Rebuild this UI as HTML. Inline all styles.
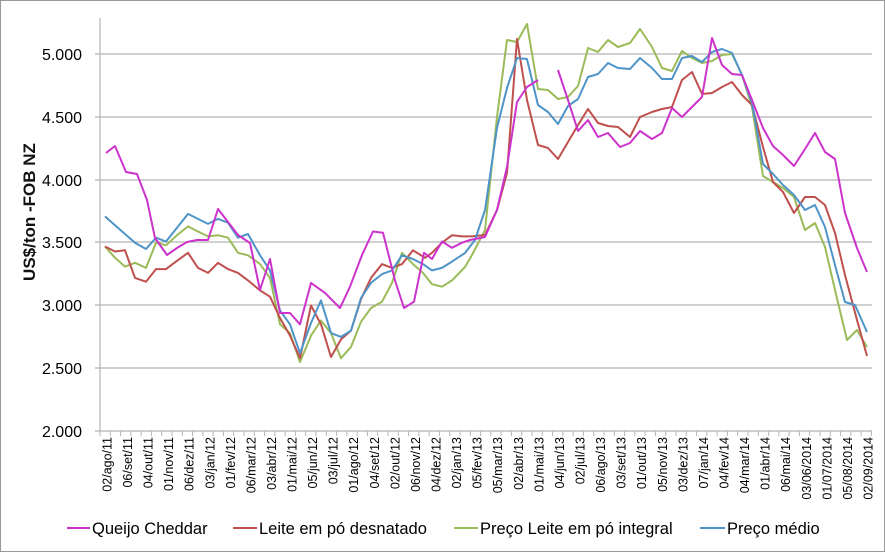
<!DOCTYPE html>
<html><head><meta charset="utf-8"><style>
html,body{margin:0;padding:0;background:#fff;}
svg{display:block;font-family:"Liberation Sans",sans-serif;}
</style></head><body>
<svg width="885" height="552" viewBox="0 0 885 552" xmlns="http://www.w3.org/2000/svg">
<rect x="0.5" y="0.5" width="884" height="551" fill="#fff" stroke="#999"/>
<g stroke="#b5b5b5" stroke-width="1.2">
<line x1="95" y1="54" x2="872" y2="54"/>
<line x1="95" y1="117" x2="872" y2="117"/>
<line x1="95" y1="180" x2="872" y2="180"/>
<line x1="95" y1="242" x2="872" y2="242"/>
<line x1="95" y1="305" x2="872" y2="305"/>
<line x1="95" y1="368" x2="872" y2="368"/>
<line x1="95" y1="431" x2="872" y2="431"/>
<line x1="100" y1="18" x2="100" y2="431"/>
</g>
<g stroke="#b5b5b5" stroke-width="1">
<path d="M100 431v5M110.3 431v5M120.6 431v5M130.9 431v5M141.1 431v5M151.4 431v5M161.7 431v5M172 431v5M182.3 431v5M192.6 431v5M202.9 431v5M213.1 431v5M223.4 431v5M233.7 431v5M244 431v5M254.3 431v5M264.6 431v5M274.9 431v5M285.1 431v5M295.4 431v5M305.7 431v5M316 431v5M326.3 431v5M336.6 431v5M346.9 431v5M357.1 431v5M367.4 431v5M377.7 431v5M388 431v5M398.3 431v5M408.6 431v5M418.9 431v5M429.1 431v5M439.4 431v5M449.7 431v5M460 431v5M470.3 431v5M480.6 431v5M490.9 431v5M501.1 431v5M511.4 431v5M521.7 431v5M532 431v5M542.3 431v5M552.6 431v5M562.9 431v5M573.1 431v5M583.4 431v5M593.7 431v5M604 431v5M614.3 431v5M624.6 431v5M634.9 431v5M645.1 431v5M655.4 431v5M665.7 431v5M676 431v5M686.3 431v5M696.6 431v5M706.9 431v5M717.1 431v5M727.4 431v5M737.7 431v5M748 431v5M758.3 431v5M768.6 431v5M778.9 431v5M789.1 431v5M799.4 431v5M809.7 431v5M820 431v5M830.3 431v5M840.6 431v5M850.9 431v5M861.1 431v5M871.4 431v5"/>
</g>
<g font-size="16" fill="#000" text-anchor="end">
<text x="82" y="60">5.000</text>
<text x="82" y="123">4.500</text>
<text x="82" y="186">4.000</text>
<text x="82" y="248">3.500</text>
<text x="82" y="311">3.000</text>
<text x="82" y="374">2.500</text>
<text x="82" y="437">2.000</text>
</g>
<text transform="translate(35,212) rotate(-90)" font-size="17" font-weight="bold" text-anchor="middle" fill="#111">US$/ton -FOB NZ</text>
<g font-size="12.5" fill="#000" text-anchor="end">
<text transform="translate(107,437) rotate(-90)" dy="0.35em">02/ago/11</text>
<text transform="translate(127.6,437) rotate(-90)" dy="0.35em">06/set/11</text>
<text transform="translate(148.1,437) rotate(-90)" dy="0.35em">04/out/11</text>
<text transform="translate(168.7,437) rotate(-90)" dy="0.35em">01/nov/11</text>
<text transform="translate(189.3,437) rotate(-90)" dy="0.35em">06/dez/11</text>
<text transform="translate(209.9,437) rotate(-90)" dy="0.35em">03/jan/12</text>
<text transform="translate(230.4,437) rotate(-90)" dy="0.35em">01/fev/12</text>
<text transform="translate(251,437) rotate(-90)" dy="0.35em">06/mar/12</text>
<text transform="translate(271.6,437) rotate(-90)" dy="0.35em">03/abr/12</text>
<text transform="translate(292.1,437) rotate(-90)" dy="0.35em">01/mai/12</text>
<text transform="translate(312.7,437) rotate(-90)" dy="0.35em">05/jun/12</text>
<text transform="translate(333.3,437) rotate(-90)" dy="0.35em">03/jul/12</text>
<text transform="translate(353.8,437) rotate(-90)" dy="0.35em">01/ago/12</text>
<text transform="translate(374.4,437) rotate(-90)" dy="0.35em">04/set/12</text>
<text transform="translate(395,437) rotate(-90)" dy="0.35em">02/out/12</text>
<text transform="translate(415.6,437) rotate(-90)" dy="0.35em">06/nov/12</text>
<text transform="translate(436.1,437) rotate(-90)" dy="0.35em">04/dez/12</text>
<text transform="translate(456.7,437) rotate(-90)" dy="0.35em">02/jan/13</text>
<text transform="translate(477.3,437) rotate(-90)" dy="0.35em">05/fev/13</text>
<text transform="translate(497.8,437) rotate(-90)" dy="0.35em">05/mar/13</text>
<text transform="translate(518.4,437) rotate(-90)" dy="0.35em">02/abr/13</text>
<text transform="translate(539,437) rotate(-90)" dy="0.35em">01/mai/13</text>
<text transform="translate(559.6,437) rotate(-90)" dy="0.35em">04/jun/13</text>
<text transform="translate(580.1,437) rotate(-90)" dy="0.35em">02/jul/13</text>
<text transform="translate(600.7,437) rotate(-90)" dy="0.35em">06/ago/13</text>
<text transform="translate(621.3,437) rotate(-90)" dy="0.35em">03/set/13</text>
<text transform="translate(641.8,437) rotate(-90)" dy="0.35em">01/out/13</text>
<text transform="translate(662.4,437) rotate(-90)" dy="0.35em">05/nov/13</text>
<text transform="translate(683,437) rotate(-90)" dy="0.35em">03/dez/13</text>
<text transform="translate(703.5,437) rotate(-90)" dy="0.35em">07/jan/14</text>
<text transform="translate(724.1,437) rotate(-90)" dy="0.35em">04/fev/14</text>
<text transform="translate(744.7,437) rotate(-90)" dy="0.35em">04/mar/14</text>
<text transform="translate(765.3,437) rotate(-90)" dy="0.35em">01/abr/14</text>
<text transform="translate(785.8,437) rotate(-90)" dy="0.35em">06/mai/14</text>
<text transform="translate(806.4,437) rotate(-90)" dy="0.35em">03/06/2014</text>
<text transform="translate(827,437) rotate(-90)" dy="0.35em">01/07/2014</text>
<text transform="translate(847.5,437) rotate(-90)" dy="0.35em">05/08/2014</text>
<text transform="translate(868,437) rotate(-90)" dy="0.35em">02/09/2014</text>
</g>
<g fill="none" stroke-width="2" stroke-linejoin="round">
<polyline stroke="#9bbb59" points="105,246.5 115,257.8 125,266.6 135,262.8 146,267.9 156,242.7 166,245.3 177,235.2 188,226.4 198,231.5 208,236.4 218,235.2 228,237.7 238,252.8 248,255.3 260,264.1 270,277.9 280,324.3 290,333.1 300,362 311,335.6 321,320.6 331,333.1 341,358.2 351,346.9 361,321.8 371,308 382,301.7 392,282.9 402,252.8 413,264.1 423,272.9 432,284.2 442,286.7 452,280.4 465,267 472,255 485,230 497,117 507,40 517,42 527,24 538,89 548,90 558,99 568,97 578,86 588,48 598,52 608,40 618,47 630,43 640,29 652,47 662,68 672,71 682,51 692,58 702,63 712,61 722,55 732,54 742,75 752,107 763,176 773,182 783,188 794,197 805,230 815,223 825,247 835,290 847,340 857,330 867,347"/>
<polyline stroke="#c0504d" points="105,246.5 115,251.5 125,250.3 135,277.9 146,281.7 156,269.1 166,269.1 176,261.6 188,252.8 198,267.9 208,272.9 218,262.8 228,269.1 238,272.9 248,280.4 260,290.4 270,296.7 280,318 290,335.6 300,358.2 311,305.5 321,324.3 331,357 341,339.4 351,330.6 361,299.2 371,277.9 382,264.1 392,267.9 402,264.1 413,250.3 425,257.8 432,252.8 442,242.7 452,235.2 462,236.4 472,236.4 485,235 497,210 507,173 517,39 527,100 538,145 548,148 558,159 568,142 578,125 588,109 598,123 608,126 618,127 630,137 640,117 652,112 662,109 672,107 682,80 692,72 702,94 712,93 722,87 732,82 742,95 752,105 763,147 773,182 783,192 794,213 805,197 815,197 825,205 835,233 845,275 857,320 867,356"/>
<polyline stroke="#4f94c8" points="105,216.4 115,225.2 125,234 135,242.7 146,249 156,237.7 166,241.5 177,227.7 188,213.9 198,218.9 208,223.9 218,218.9 228,222.7 238,237.7 248,234 260,255.3 270,270.4 280,310.5 290,324.3 300,353.2 311,323 321,300.4 331,333.1 341,336.9 351,330.6 361,298 371,282.9 382,274.1 392,270.4 402,255.3 413,259 423,264.1 432,270.4 442,267.9 452,261.6 465,253 475,240 485,210 497,128 507,88 517,58 527,59 538,105 548,112 558,124 568,106 578,99 588,77 598,74 608,63 618,68 630,69 640,58 652,68 662,79 672,79 682,58 692,56 702,62 712,52 722,49 732,53 742,75 752,103 763,164 773,174 783,185 794,195 805,210 815,205 825,227 835,265 845,302 855,305 867,332"/>
<polyline stroke="#cc33cc" points="106,153 115,146 126,172 137,174 147,200 155,238 167,255 177,248 187,242 197,240 208,240 218,209 228,222 238,235 250,243 260,290 270,259 280,313 290,313 300,324.3 311,282.9 325,292.9 340,308 350,286.7 362,255 373,231.5 383,232.7 395,280.4 404,308 414,301.7 424,252.8 432,259 442,241.5 452,247.8 462,242.7 470,240 485,237 497,210 507,167 517,102 527,87 538,80"/>
<polyline stroke="#cc33cc" points="558,70 568,100 578,131 588,120 598,137 608,133 620,147 630,143 640,131 652,139 662,133 672,108 682,117 692,107 702,97 712,38 722,65 732,74 742,75 752,100 763,128 773,146 783,155 794,166 805,149 815,133 825,152 835,159 845,213 857,248 867,272"/>
</g>
<g font-size="16.5" fill="#000">
<line x1="67" y1="528" x2="90" y2="528" stroke="#cc33cc" stroke-width="2"/>
<text x="92" y="534">Queijo Cheddar</text>
<line x1="233" y1="528" x2="257" y2="528" stroke="#c0504d" stroke-width="2"/>
<text x="259" y="534">Leite em pó desnatado</text>
<line x1="454" y1="528" x2="478" y2="528" stroke="#9bbb59" stroke-width="2"/>
<text x="480" y="534">Preço Leite em pó integral</text>
<line x1="700" y1="528" x2="725" y2="528" stroke="#4f94c8" stroke-width="2"/>
<text x="727" y="534">Preço médio</text>
</g>
</svg>
</body></html>
